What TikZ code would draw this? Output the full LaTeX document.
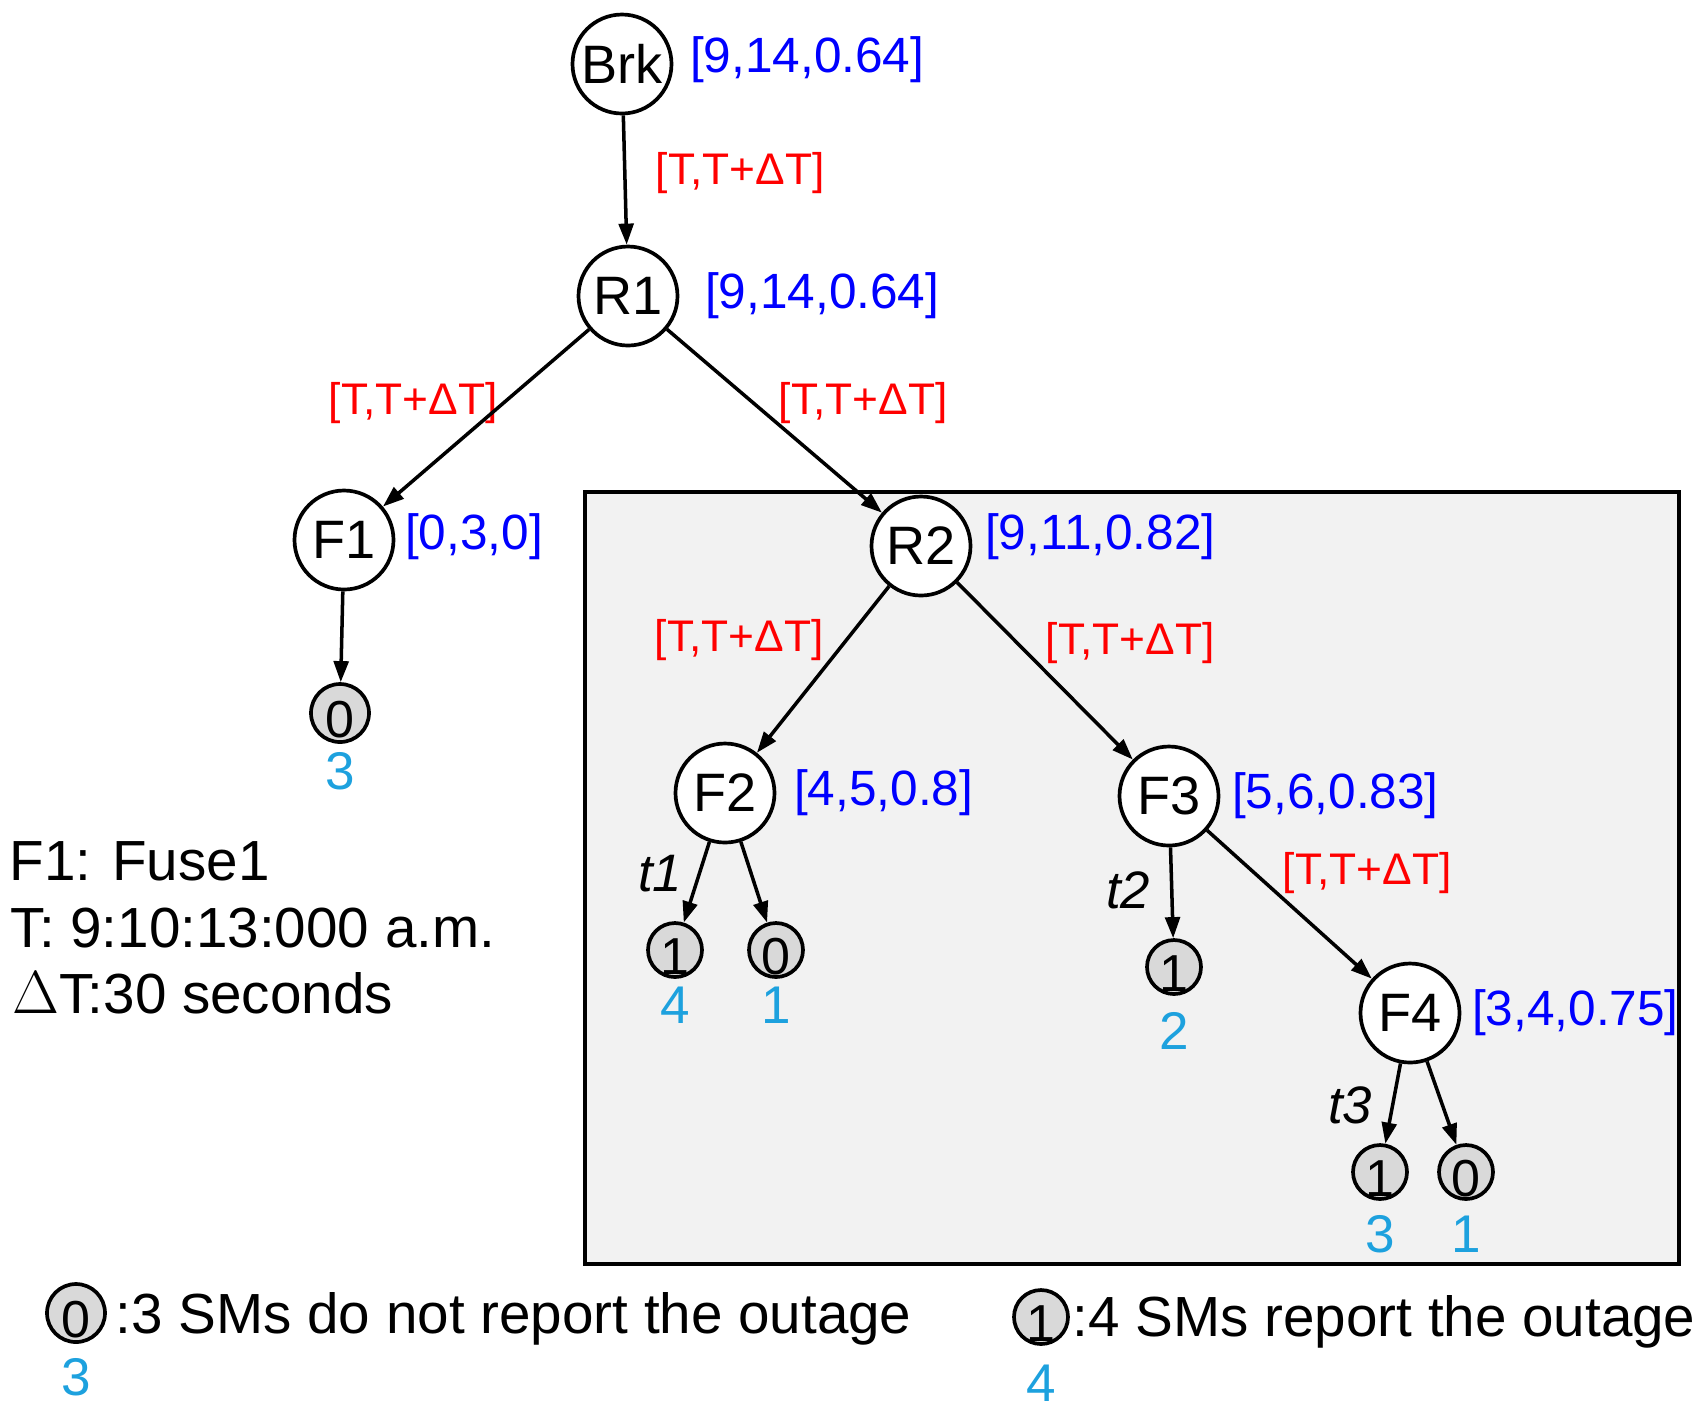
\documentclass[tikz,border=0pt]{standalone}
\usepackage{fontspec}
\setmainfont{Liberation Sans}
\usepackage{tikz}
\usetikzlibrary{arrows.meta, positioning}
\usepackage{xcolor}
\definecolor{cntcyan}{RGB}{29,161,222}
\newcommand{\smdigit}[1]{\raisebox{-7.1pt}[0pt][0pt]{#1}}

\begin{document}
\begin{tikzpicture}[
  every node/.style={inner sep=0pt},
  dev/.style    ={circle, draw, fill=white, line width=1.05pt, minimum size=0.99cm, font=\fontsize{15.4}{18}\selectfont},
  sm/.style     ={circle, draw, fill=black!15, line width=1.05pt, minimum size=0.54cm, font=\fontsize{14.8}{17}\selectfont},
  info/.style   ={text=blue, font=\fontsize{14.1}{16}\selectfont},
  win/.style    ={text=red, font=\fontsize{12.6}{14}\selectfont},
  cnt/.style    ={text=cntcyan, font=\fontsize{15.1}{18}\selectfont},
  tlab/.style   ={font=\itshape\fontsize{15}{18}\selectfont},
  legtxt/.style ={font=\fontsize{16.1}{19}\selectfont, anchor=base west},
  edge/.style   ={-{Triangle[length=6pt, width=4.2pt]}, line width=1.0pt}
]
\useasboundingbox (0,0) rectangle (17.06,-14.16);

%% Shaded sub-tree under R2
\draw[line width=1.25pt, fill=black!5] (5.85,-4.92) rectangle (16.79,-12.64);

%% Breaker, reclosers and fuses
\node[dev] (Brk) at (6.22,-0.64)  {Brk};
\node[dev] (R1)  at (6.28,-2.96)  {R1};
\node[dev] (F1)  at (3.44,-5.40)  {F1};
\node[dev] (R2)  at (9.21,-5.46)  {R2};
\node[dev] (F2)  at (7.25,-7.93)  {F2};
\node[dev] (F3)  at (11.69,-7.96) {F3};
\node[dev] (F4)  at (14.10,-10.13){F4};

%% Smart meter groups (1 = report, 0 = no report)
\node[sm, minimum size=0.58cm] (sF1) at (3.40,-7.13) {\smdigit{0}};
\node[sm] (sF2a) at (6.75,-9.50)  {\smdigit{1}};
\node[sm] (sF2b) at (7.76,-9.50)  {\smdigit{0}};
\node[sm] (sF3)  at (11.74,-9.67) {\smdigit{1}};
\node[sm] (sF4a) at (13.80,-11.72){\smdigit{1}};
\node[sm] (sF4b) at (14.66,-11.72){\smdigit{0}};

%% Number of meters in each group
\node[cnt, below=0.08cm of sF1]  (nF1)  {3};
\node[cnt, below=0.07cm of sF2a] (nF2a) {4};
\node[cnt, below=0.07cm of sF2b] (nF2b) {1};
\node[cnt, below=0.16cm of sF3]  (nF3)  {2};
\node[cnt, below=0.14cm of sF4a] (nF4a) {3};
\node[cnt, below=0.14cm of sF4b] (nF4b) {1};

%% Device states
\node[info, right=0.16cm of Brk, yshift=0.04cm] (iBrk) {[9,14,0.64]};
\node[info, right=0.25cm of R1]  (iR1) {[9,14,0.64]};
\node[info, right=0.09cm of F1, yshift=0.03cm] (iF1) {[0,3,0]};
\node[info, right=0.12cm of R2, yshift=0.09cm] (iR2) {[9,11,0.82]};
\node[info, right=0.17cm of F2]  (iF2) {[4,5,0.8]};
\node[info, right=0.11cm of F3]  (iF3) {[5,6,0.83]};
\node[info, right=0.10cm of F4]  (iF4) {[3,4,0.75]};

%% Time windows
\node[win] (wBR)   at (7.40,-1.73)  {[T,T+ΔT]};
\node[win] (wRF1)  at (4.13,-4.03)  {[T,T+ΔT]};
\node[win] (wRR2)  at (8.63,-4.03)  {[T,T+ΔT]};
\node[win] (wRF2)  at (7.39,-6.40)  {[T,T+ΔT]};
\node[win] (wRF3)  at (11.30,-6.43) {[T,T+ΔT]};
\node[win] (wF3F4) at (13.67,-8.73) {[T,T+ΔT]};

%% Report times
\node[tlab] (t1) at (6.60,-8.74)  {t1};
\node[tlab] (t2) at (11.28,-8.90) {t2};
\node[tlab] (t3) at (13.50,-11.05){t3};

%% Edges
\foreach \a/\b in {Brk/R1, R1/F1, R1/R2, F1/sF1, R2/F2, R2/F3, F2/sF2a, F2/sF2b, F3/sF3, F3/F4, F4/sF4a, F4/sF4b}
  \draw[edge] (\a) -- (\b);

%% Legend
\node[legtxt] (lgF)  at (0.09,-8.80)  {F1: Fuse1};
\node[legtxt] (lgT)  at (0.10,-9.47)  {T: 9:10:13:000 a.m.};
\node[legtxt] (lgDT) at (0.12,-10.13) {$\Delta$T:30 seconds};

\node[sm, minimum size=0.58cm] (key0) at (0.76,-13.13) {\smdigit{0}};
\node[cnt, below=0.14cm of key0] (nkey0) {3};
\node[legtxt] (lgK0) at (1.15,-13.33) {:3 SMs do not report the outage};
\node[sm] (key1) at (10.41,-13.17) {\smdigit{1}};
\node[cnt, below=0.18cm of key1] (nkey1) {4};
\node[legtxt] (lgK1) at (10.72,-13.36) {:4 SMs report the outage};

\end{tikzpicture}
\end{document}
